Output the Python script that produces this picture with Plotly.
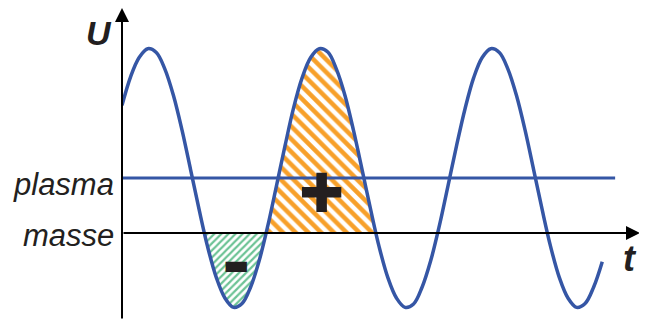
"""Plasma potential vs. ground: sine wave with hatched +/- areas."""

import plotly.graph_objects as go

# Wave (time in periods, U in units of the plasma level)
wave_t = [0.00, 0.05, 0.10, 0.15, 0.20, 0.25, 0.30, 0.35, 0.40, 0.45,
          0.50, 0.55, 0.60, 0.65, 0.70, 0.75, 0.80, 0.85, 0.90, 0.95,
          1.00, 1.05, 1.10, 1.15, 1.20, 1.25, 1.30, 1.35, 1.40, 1.45,
          1.50, 1.55, 1.60, 1.65, 1.70, 1.75, 1.80, 1.85, 1.90, 1.95,
          2.00, 2.05, 2.10, 2.15, 2.20, 2.25, 2.30, 2.35, 2.40, 2.45,
          2.50, 2.55, 2.60, 2.65, 2.70, 2.75, 2.80]
wave_u = [2.32, 2.84, 3.19, 3.35, 3.28, 2.98, 2.50, 1.87, 1.15, 0.42,
          -0.26, -0.81, -1.18, -1.35, -1.28, -0.98, -0.50, 0.13, 0.85, 1.58,
          2.27, 2.82, 3.19, 3.35, 3.29, 2.98, 2.50, 1.86, 1.15, 0.42,
          -0.26, -0.81, -1.18, -1.35, -1.29, -0.98, -0.50, 0.13, 0.85, 1.58,
          2.26, 2.82, 3.19, 3.35, 3.28, 2.98, 2.50, 1.87, 1.15, 0.42,
          -0.26, -0.81, -1.18, -1.35, -1.28, -0.98, -0.52]

# Levels
masse_u = 0.0
plasma_u = 1.0
plasma_t = [0.0, 2.875]

# Where the wave crosses the ground line
neg_edges = [0.481, 0.840]
pos_edges = [0.840, 1.481]

# Axis extents
t_max = 3.02
u_min, u_max = -1.58, 4.09

BLUE = "#3556a5"
ORANGE = "#f7a02a"
GREEN = "#6cc395"
INK = "#231f20"


def lobe(edges):
    """Wave points between two ground crossings, closed on the ground line."""
    xs = [edges[0]]
    ys = [masse_u]
    for t, u in zip(wave_t, wave_u):
        if edges[0] < t < edges[1]:
            xs.append(t)
            ys.append(u)
    xs.append(edges[1])
    ys.append(masse_u)
    return xs, ys


fig = go.Figure()

nx, ny = lobe(neg_edges)
fig.add_trace(go.Scatter(
    x=nx, y=ny, mode="none", fill="tozeroy", line_shape="spline",
    fillpattern=dict(shape="/", fgcolor=GREEN, bgcolor="white", fgopacity=1,
                     size=5, solidity=0.45),
))

px_, py_ = lobe(pos_edges)
fig.add_trace(go.Scatter(
    x=px_, y=py_, mode="none", fill="tozeroy", line_shape="spline",
    fillpattern=dict(shape="\\", fgcolor=ORANGE, bgcolor="white", fgopacity=1,
                     size=9, solidity=0.5),
))

# Plasma level
fig.add_trace(go.Scatter(
    x=plasma_t, y=[plasma_u, plasma_u], mode="lines",
    line=dict(color=BLUE, width=3),
))

# Signal
fig.add_trace(go.Scatter(
    x=wave_t, y=wave_u, mode="lines", line_shape="spline",
    line=dict(color=BLUE, width=3.5),
))

label_font = dict(family="Liberation Sans", size=31, color=INK, style="italic")

annotations = [
    # axes with arrow heads
    dict(x=0, y=u_max, ax=0, ay=u_min, xref="x", yref="y", axref="x", ayref="y",
         showarrow=True, arrowhead=2, arrowsize=1.4, arrowwidth=2,
         arrowcolor="black", text=""),
    dict(x=t_max, y=masse_u, ax=0, ay=masse_u, xref="x", yref="y",
         axref="x", ayref="y", showarrow=True, arrowhead=2, arrowsize=1.4,
         arrowwidth=2, arrowcolor="black", text=""),
    # axis names
    dict(x=0, y=3.63, xref="x", yref="y", text="U", showarrow=False,
         xanchor="right", yanchor="middle", xshift=-8,
         font=dict(family="Liberation Sans", size=34, color=INK,
                   style="italic", weight="bold")),
    dict(x=2.96, y=-0.47, xref="x", yref="y", text="t", showarrow=False,
         xanchor="center", yanchor="middle",
         font=dict(family="Liberation Sans", size=36, color=INK,
                   style="italic", weight="bold")),
    # level names
    dict(x=0, y=plasma_u, xref="x", yref="y", text="plasma", showarrow=False,
         xanchor="right", yanchor="middle", xshift=-6, yshift=-6,
         font=label_font),
    dict(x=0, y=masse_u, xref="x", yref="y", text="masse", showarrow=False,
         xanchor="right", yanchor="middle", xshift=-6, yshift=-2,
         font=label_font),
    # signs of the areas
    dict(x=1.163, y=0.71, xref="x", yref="y", text="✚", showarrow=False,
         xanchor="center", yanchor="middle",
         font=dict(family="DejaVu Sans", size=54, color=INK)),
    dict(x=0.667, y=-0.57, xref="x", yref="y", text="▬", showarrow=False,
         xanchor="center", yanchor="middle",
         font=dict(family="DejaVu Sans", size=28, color=INK)),
]

# the page adds an 8px body margin, so the figure is 8px smaller and
# the top/left margins are reduced to keep the axes where they belong
fig.update_layout(
    width=639, height=312,
    margin=dict(l=114, r=7, t=0, b=0),
    paper_bgcolor="white", plot_bgcolor="white",
    showlegend=False,
    xaxis=dict(range=[0, t_max], visible=False, fixedrange=True),
    yaxis=dict(range=[u_min, u_max], visible=False, fixedrange=True),
    annotations=annotations,
)

fig.write_html("out.html")
